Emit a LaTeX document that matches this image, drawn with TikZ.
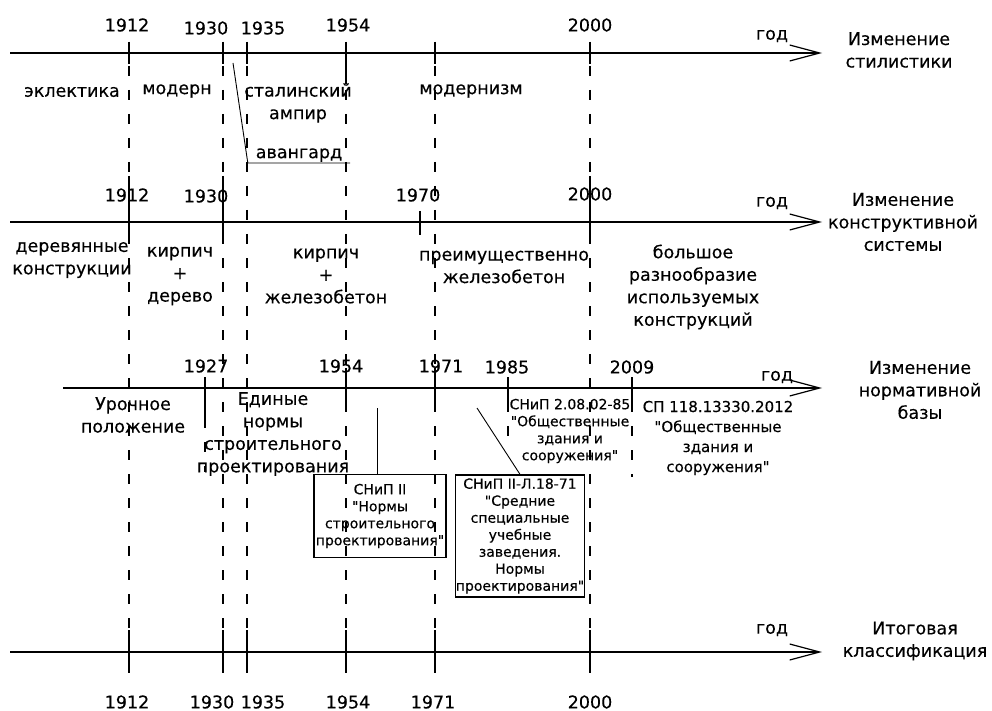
\documentclass[tikz,border=0pt]{standalone}
\usepackage{fontspec}
\setmainfont{DejaVu Sans}
\newfontfamily\dvs[FakeBold=0.3]{DejaVu Sans}
\usetikzlibrary{arrows.meta}

\begin{document}
\begin{tikzpicture}[x=1pt, y=-1pt,
  axis/.style={line width=2.6pt, -{Straight Barb[length=30pt, width=16pt, line width=1.2pt]}},
  guide/.style={line width=1.4pt, dash pattern=on 10pt off 14pt},
  tick/.style={line width=1.4pt},
  lead/.style={line width=0.9pt},
  yr/.style={font=\dvs\fontsize{17.5}{21}\selectfont, inner sep=1pt},
  lab/.style={font=\dvs\fontsize{17.5}{22.5}\selectfont, align=center, inner sep=1pt},
  note/.style={font=\dvs\fontsize{14}{17}\selectfont, align=center, inner sep=1pt},
  spnote/.style={font=\dvs\fontsize{15}{20}\selectfont, align=center, inner sep=1pt},
  doc/.style={note, draw, line width=1.3pt, inner sep=0pt}]
  \useasboundingbox (0,0) rectangle (992,711);
  % year guides
  \foreach \x [count=\k] in {129,223,247,346,435,590}{
    \coordinate (gt\k) at (\x,42);
    \coordinate (gb\k) at (\x,673);
    \draw[guide] (gt\k) -- (gb\k);}
  \foreach \x/\a/\b in {205/418/472, 508/402/440, 632/402/477}
    \draw[guide] (\x,\a) -- (\x,\b);
  % ticks
  \foreach \x/\a/\b in {129/42/64, 223/42/64, 247/42/64, 346/42/84, 435/42/64, 590/42/64,
    129/176/242, 223/176/242, 420/211/235, 590/176/242,
    205/377/418, 346/368/404, 435/368/404, 508/377/402, 632/377/402,
    129/630/673, 223/630/673, 247/630/673, 346/630/673, 435/630/673, 590/630/673}
    \draw[tick] (\x,\a) -- (\x,\b);
  % axes
  \foreach \n/\xs/\y/\gx/\gy in {1/10/53/772/36, 2/10/222/772/203, 3/63/388/777/377, 4/10/652/772/630}{
    \coordinate (s\n) at (\xs,\y);
    \coordinate (e\n) at (822,\y);
    \draw[axis] (s\n) -- (e\n);
    \node[lab] (god\n) at (\gx,\gy) {год};}
  % years
  \foreach \t/\x/\y in {1912/127/25, 1930/206/28, 1935/263/28, 1954/348/25, 2000/590/25}
    \node[yr] (ya\t) at (\x,\y) {\t};
  \foreach \t/\x/\y in {1912/127/195, 1930/206/196, 1970/418/195, 2000/590/194}
    \node[yr] (yb\t) at (\x,\y) {\t};
  \foreach \t/\x/\y in {1927/206/366, 1954/341/366, 1971/441/366, 1985/507/367, 2009/632/367}
    \node[yr] (yc\t) at (\x,\y) {\t};
  \foreach \t/\x in {1912/127, 1930/212, 1935/263, 1954/348, 1971/433, 2000/590}
    \node[yr] (yd\t) at (\x,702) {\t};
  % axis titles
  \node[lab] (tst) at (899,50) {Изменение\\стилистики};
  \node[lab] (tks) at (903,222) {Изменение\\конструктивной\\системы};
  \node[lab] (tnb) at (920,390) {Изменение\\нормативной\\базы};
  \node[lab] (tit) at (915,641) {Итоговая\\классификация};
  % styles
  \node[lab] (ekl) at (72,92) {эклектика};
  \node[lab] (mod) at (177,91) {модерн};
  \node[lab] (stal) at (298,103) {сталинский\\ампир};
  \node[lab] (modz) at (471,91) {модернизм};
  \node[lab, anchor=south, minimum width=102pt] (avg) at (299,163) {авангард};
  \coordinate (avs) at (233,63);
  \draw[lead] (avs) -- (avg.south west) -- (avg.south east);
  % structures
  \node[lab] (der) at (72,260) {деревянные\\конструкции};
  \node[lab] (kd) at (180,276) {кирпич\\+\\дерево};
  \node[lab] (kz) at (326,276) {кирпич\\+\\железобетон};
  \node[lab] (pz) at (504,267) {преимущественно\\железобетон};
  \node[lab] (bol) at (693,287) {большое\\разнообразие\\используемых\\конструкций};
  % norms
  \node[lab] (uro) at (133,415) {Урочное\\положение};
  \node[lab] (edn) at (273,434) {Единые\\нормы\\строительного\\проектирования};
  \node[note] (sn85) at (570,431) {СНиП 2.08.02-85\\"Общественные\\здания и\\сооружения"};
  \node[spnote] (sp12) at (718,438) {СП 118.13330.2012\\"Общественные\\здания и\\сооружения"};
  \node[doc, minimum width=132pt, minimum height=83pt] (sn2) at (380,516) {СНиП II\\"Нормы\\строительного\\проектирования"};
  \node[doc, minimum width=126pt, minimum height=122pt] (sn71) at (520,536) {СНиП II-Л.18-71\\"Средние\\специальные\\учебные\\заведения.\\Нормы\\проектирования"};
  \coordinate (sn2l) at (377,408);
  \coordinate (sn71l) at (477,408);
  \draw[lead] (sn2l) -- (sn2l |- sn2.north);
  \draw[lead] (sn71l) -- (sn71.north);
\end{tikzpicture}
\end{document}
